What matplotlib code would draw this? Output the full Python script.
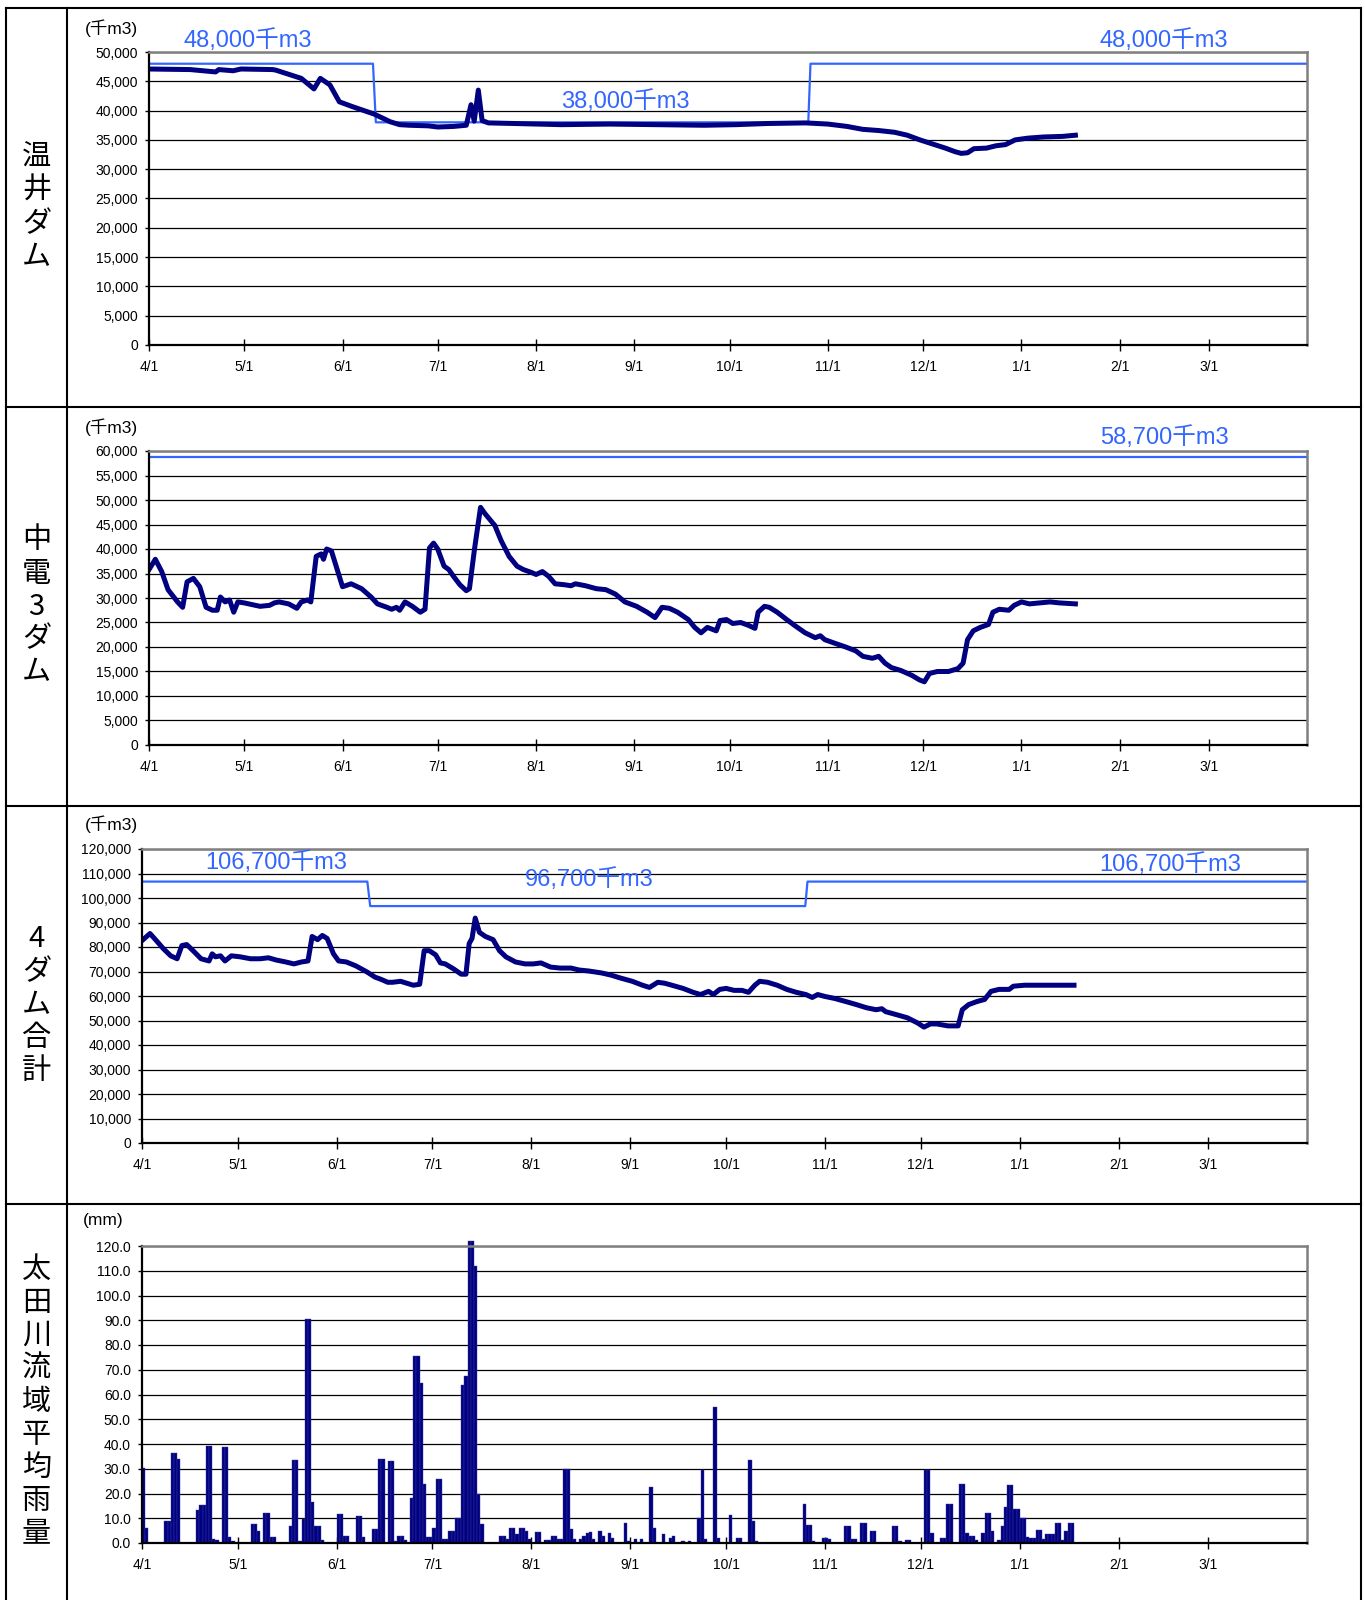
import numpy as np
import matplotlib
matplotlib.use("Agg")
import matplotlib.pyplot as plt
from matplotlib.lines import Line2D

plt.rcParams['font.family'] = ['Liberation Sans', 'Noto Sans CJK JP']

W, H = 1365, 1600

# ----- data -----
tick_days = [0, 30, 61, 91, 122, 153, 183, 214, 244, 275, 306, 334]
tick_labels = ['4/1', '5/1', '6/1', '7/1', '8/1', '9/1', '10/1', '11/1', '12/1', '1/1', '2/1', '3/1']

# 温井ダム storage (千m3)
ondo_day = [0, 13, 21, 22, 26.5, 29, 39, 40, 48, 52, 54, 57, 60, 64, 71, 76, 79,
            82, 88, 91, 96, 100, 101.5, 102.5, 103.8, 105, 107, 115, 130, 145, 160,
            175, 185, 195, 207, 214, 220, 225, 230, 235, 239, 243, 247, 251, 254,
            256, 258, 260, 264, 267, 270, 273, 277, 282, 288, 292]
ondo_val = [47100, 47000, 46600, 47000, 46800, 47100, 47000, 46900, 45500, 43700, 45500,
            44400, 41500, 40700, 39400, 38100, 37600,
            37500, 37400, 37200, 37300, 37500, 41000, 38200, 43500, 38300, 37900, 37800,
            37600, 37700, 37600, 37500, 37600, 37800, 37900, 37700, 37300, 36800, 36600,
            36300, 35800, 35000, 34300, 33600, 33000, 32700, 32800, 33500, 33600, 34000,
            34200, 35000, 35300, 35500, 35600, 35800]
ondo_lim_day = [0, 70.6, 71.5, 207.8, 208.5, 365]
ondo_lim_val = [48000, 48000, 38000, 38000, 48000, 48000]

# 中電3ダム storage (千m3)
chuden_day = [0, 2, 4, 6, 9, 10.6, 12, 14, 16, 18, 20, 21.5, 22.5, 24, 25.4, 26.7, 28,
              30, 35, 38, 39.5, 41, 44, 46.6, 48, 50, 51, 52.7, 54.3, 55, 56, 57.5, 60,
              61, 63.7, 67, 70, 72, 75, 76.5, 78, 79, 80.7, 83, 85.5, 87, 88.4, 89.7, 91,
              93, 94.5, 96, 98, 100, 101, 102.6, 104.5, 105.8, 107.7, 109, 111, 113.5,
              116, 118, 120.6, 122, 124, 126, 128, 131, 133, 134.4, 137.6, 141, 144, 147,
              150, 153.7, 157, 159.5, 161.7, 164, 166.6, 170, 172, 174, 176, 178.8, 180,
              182, 184, 186.5, 189, 191, 192, 194, 195.5, 198, 201, 203.5, 206.8, 210,
              211.6, 213, 216, 219.6, 222.8, 225, 228, 230, 232, 234, 237, 240.5, 242.8,
              244.4, 246, 248.5, 252, 255, 256.6, 258, 259.8, 262, 264.6, 266, 268, 271,
              272.7, 275, 277.5, 280.7, 284, 287, 292]
chuden_val = [35800, 37900, 35400, 31700, 29200, 28100, 33300, 34000, 32300, 28100, 27500,
              27500, 30200, 29200, 29600, 27100, 29200, 29000, 28300, 28500, 29000, 29200,
              28800, 27900, 29200, 29600, 29200, 38500, 39000, 37900, 40000, 39600, 34400,
              32300, 32900, 31900, 30200, 28800, 28100, 27700, 28100, 27500, 29200, 28300,
              27100, 27700, 40200, 41200, 40000, 36500, 35800, 34400, 32700, 31500, 31900,
              40000, 48500, 47300, 45800, 44800, 41700, 38500, 36500, 35800, 35200, 34800,
              35400, 34400, 32900, 32700, 32500, 32900, 32500, 31900, 31700, 30800, 29200,
              28300, 27100, 26000, 28100, 27900, 27100, 25600, 24000, 22900, 24000, 23300,
              25400, 25600, 24800, 25000, 24400, 23800, 27100, 28300, 28100, 27100, 25600,
              24400, 22900, 21900, 22300, 21500, 20800, 20000, 19200, 18100, 17700, 18100,
              16700, 15800, 15200, 14200, 13300, 12900, 14600, 15000, 15000, 15600, 16700,
              21500, 23300, 24000, 24600, 27100, 27700, 27500, 28500, 29200, 28800, 29000,
              29200, 29000, 28800]
chuden_lim_day = [0, 365]
chuden_lim_val = [58700, 58700]

# 4ダム合計 storage (千m3)
total_day = [0, 2.5, 4.5, 6.7, 9, 11, 12.5, 14, 16, 18.5, 21, 22, 23, 24.6, 26, 28, 30.7,
             34, 37, 39.6, 42, 45, 47.6, 50, 52, 53.3, 55, 56.5, 58, 60, 61.6, 64, 67,
             70.5, 73, 74.7, 77, 78.5, 81, 83, 85, 87, 88.4, 90, 92, 93.5, 95, 97.7, 100,
             101.5, 102.5, 103.4, 104.4, 105.7, 107.6, 110, 112, 114, 117, 120, 122.6,
             125, 128, 131, 134.4, 137, 140, 144, 147, 150, 153.6, 156.8, 159, 161.6,
             163.8, 166, 169.5, 172.7, 175, 177.5, 179, 181, 183, 185.5, 188, 190, 192,
             193.5, 196, 199, 202, 205, 208, 210, 211.7, 214, 217, 220.6, 223.8, 227, 230,
             231.8, 233, 236.6, 239.8, 243, 245, 247, 249, 252.5, 255.7, 257, 259, 261.5,
             264, 266, 268.5, 271.7, 273, 276.5, 281, 286, 292]
total_val = [82600, 85500, 82600, 79300, 76400, 75200, 80600, 81000, 78500, 75200, 74300,
             77200, 76000, 76400, 74300, 76400, 76000, 75200, 75200, 75600, 74700, 73900,
             73100, 73900, 74300, 84300, 83000, 84700, 83500, 77200, 74300, 73900, 72300,
             69800, 67700, 66900, 65600, 65600, 66000, 65200, 64400, 64800, 78500, 78500,
             76800, 73500, 73100, 71000, 68900, 68900, 81400, 83500, 91800, 86000, 84300,
             83000, 78500, 76000, 73900, 73100, 73100, 73500, 71800, 71400, 71400, 70600,
             70200, 69400, 68500, 67300, 66000, 64400, 63500, 65600, 65200, 64400, 63100,
             61500, 60600, 61900, 60600, 62700, 63100, 62300, 62300, 61500, 64400, 66000,
             65600, 64400, 62700, 61500, 60600, 59400, 60600, 59800, 59000, 57700, 56500,
             55200, 54400, 54800, 53600, 52300, 51100, 49000, 47300, 48600, 48600, 47800,
             47800, 54400, 56500, 57700, 58600, 61900, 62700, 62700, 64000, 64400, 64400,
             64400, 64400]
total_lim_day = [0, 70.6, 71.5, 207.8, 208.5, 365]
total_lim_val = [106700, 106700, 96700, 96700, 106700, 106700]

# 太田川流域平均雨量 (mm/day), days with rain
rain_day = [0, 1, 7, 8, 9, 10, 11, 17, 18, 19, 20, 21, 22, 23, 25, 26, 27, 28, 34, 35, 36,
            38, 39, 40, 41, 46, 47, 48, 49, 50, 51, 52, 53, 54, 55, 56, 61, 62, 63, 64,
            67, 68, 69, 72, 73, 74, 75, 77, 78, 79, 80, 81, 82, 84, 85, 86, 87, 88, 89,
            90, 91, 92, 93, 94, 95, 96, 97, 98, 99, 100, 101, 102, 103, 104, 105, 106,
            112, 113, 114, 115, 116, 117, 118, 119, 120, 121, 123, 124, 126, 127, 128,
            129, 130, 131, 132, 133, 134, 135, 137, 138, 139, 140, 141, 143, 144, 146,
            147, 151, 152, 154, 156, 159, 160, 163, 165, 166, 169, 171, 174, 175, 176,
            179, 180, 184, 186, 187, 190, 191, 192, 207, 208, 209, 210, 213, 214, 215,
            220, 221, 222, 223, 225, 226, 228, 229, 235, 236, 237, 239, 240, 245, 246,
            247, 250, 251, 252, 253, 256, 257, 258, 259, 260, 261, 263, 264, 265, 266,
            268, 269, 270, 271, 272, 273, 274, 275, 276, 277, 278, 279, 280, 281, 282,
            283, 284, 285, 286, 287, 288, 289, 290, 291]
rain_val = [30.2, 6.2, 8.7, 8.7, 36.5, 36.5, 34.0, 13.5, 15.5, 15.5, 39.0, 39.0, 1.5, 1.2,
            38.8, 38.8, 2.6, 1.0, 7.5, 7.5, 5.0, 12.3, 12.3, 2.5, 2.5, 7.0, 33.5, 33.5,
            1.0, 9.6, 90.5, 90.5, 16.5, 7.0, 7.0, 1.2, 11.8, 11.8, 2.9, 2.9, 11.0, 11.0,
            2.6, 5.5, 5.5, 34.0, 34.0, 33.2, 33.2, 1.0, 2.8, 2.8, 1.2, 18.3, 75.6, 75.6,
            64.5, 23.8, 2.6, 2.6, 6.2, 26.0, 26.0, 1.8, 1.8, 5.0, 5.0, 10.0, 10.0, 64.0,
            67.5, 122.0, 122.0, 112.0, 20.0, 7.7, 3.0, 3.0, 1.5, 6.1, 6.1, 3.5, 6.1, 6.1,
            5.0, 1.5, 4.5, 4.5, 1.2, 1.2, 3.0, 3.0, 1.5, 1.5, 29.8, 29.8, 5.5, 1.5, 1.5,
            3.0, 4.0, 4.5, 1.5, 5.0, 3.0, 4.0, 2.0, 8.0, 1.0, 1.5, 1.5, 22.5, 6.0, 3.5,
            2.0, 3.0, 1.0, 1.0, 10.0, 29.5, 1.5, 55.0, 2.0, 11.5, 2.0, 2.0, 33.5, 9.0,
            1.0, 15.6, 7.3, 7.3, 1.0, 2.2, 2.2, 1.5, 6.9, 6.9, 1.6, 1.6, 8.2, 8.2, 4.8,
            4.8, 6.9, 6.9, 1.0, 1.2, 1.2, 29.5, 29.5, 4.2, 2.2, 2.2, 15.6, 15.6, 23.8,
            23.8, 3.9, 3.0, 3.0, 1.2, 3.9, 12.3, 12.3, 4.8, 1.2, 6.9, 14.7, 23.3, 23.3,
            13.6, 13.6, 10.1, 10.1, 2.6, 2.2, 2.2, 5.3, 5.3, 1.5, 3.6, 3.6, 3.6, 8.2, 8.2,
            1.2, 5.0, 8.2, 8.2]

row_names = ['温井ダム', '中電3ダム', '4ダム合計', '太田川流域平均雨量']
units = ['(千m3)', '(千m3)', '(千m3)', '(mm)']

# ----- figure -----
fig = plt.figure(figsize=(W / 100, H / 100), dpi=100)

navy = '#000080'
blue = '#3366FF'


def px_axes(left, top, right, bottom):
    return fig.add_axes([left / W, 1 - bottom / H, (right - left) / W, (bottom - top) / H])


def style(ax, ymax, ystep, fmt):
    ax.set_xlim(0, 365)
    ax.set_ylim(0, ymax)
    ax.set_xticks(tick_days)
    ax.set_xticklabels(tick_labels)
    ax.set_yticks(np.arange(0, ymax + ystep / 2, ystep))
    ax.set_yticklabels([fmt(v) for v in np.arange(0, ymax + ystep / 2, ystep)])
    ax.tick_params(axis='x', direction='inout', length=8, width=1, pad=7, labelsize=10)
    ax.tick_params(axis='y', direction='out', length=3, width=1, pad=5, labelsize=10)
    ax.yaxis.grid(True, color='black', linewidth=0.9)
    ax.set_axisbelow(True)
    for s in ['left', 'bottom']:
        ax.spines[s].set_color('black')
        ax.spines[s].set_linewidth(1.6)
    for s in ['top', 'right']:
        ax.spines[s].set_color('#808080')
        ax.spines[s].set_linewidth(1.8)


def thousands(v):
    return f'{int(v):,}'


def one_dec(v):
    return f'{v:.1f}'


# 温井ダム
ax1 = px_axes(149, 52, 1307, 345)
style(ax1, 50000, 5000, thousands)
ax1.plot(ondo_lim_day, ondo_lim_val, color=blue, lw=1.6)
ax1.plot(ondo_day, ondo_val, color=navy, lw=3.6, solid_joinstyle='round')
ax1.text(31, 52000, '48,000千m3', color=blue, fontsize=17, ha='center', va='center', clip_on=False)
ax1.text(150, 41600, '38,000千m3', color=blue, fontsize=17, ha='center', va='center')
ax1.text(320, 52000, '48,000千m3', color=blue, fontsize=17, ha='center', va='center', clip_on=False)

# 中電3ダム
ax2 = px_axes(149, 451, 1307, 745)
style(ax2, 60000, 5000, thousands)
ax2.plot(chuden_lim_day, chuden_lim_val, color=blue, lw=1.6)
ax2.plot(chuden_day, chuden_val, color=navy, lw=3.6, solid_joinstyle='round')
ax2.text(320, 62800, '58,700千m3', color=blue, fontsize=17, ha='center', va='center', clip_on=False)

# 4ダム合計
ax3 = px_axes(142, 849, 1307, 1143)
style(ax3, 120000, 10000, thousands)
ax3.plot(total_lim_day, total_lim_val, color=blue, lw=1.6)
ax3.plot(total_day, total_val, color=navy, lw=3.6, solid_joinstyle='round')
ax3.text(42, 114300, '106,700千m3', color=blue, fontsize=17, ha='center', va='center')
ax3.text(140, 107700, '96,700千m3', color=blue, fontsize=17, ha='center', va='center')
ax3.text(322, 113500, '106,700千m3', color=blue, fontsize=17, ha='center', va='center')

# 雨量
ax4 = px_axes(142, 1246, 1307, 1543)
style(ax4, 120, 10, one_dec)
ax4.bar(rain_day, rain_val, width=1.0, align='edge', color=navy,
        edgecolor='#3a3aa0', linewidth=0.3, clip_on=False)

# unit labels
unit_pos = [(111, 28), (111, 427), (111, 824), (103, 1221)]
for (ux, uy), u in zip(unit_pos, units):
    fig.text(ux / W, 1 - uy / H, u, fontsize=12.5, ha='center', va='center')

# table frame
def fline(x0, y0, x1, y1, lw=1.5):
    fig.add_artist(Line2D([x0 / W, x1 / W], [1 - y0 / H, 1 - y1 / H],
                          color='black', lw=lw, transform=fig.transFigure))

row_edges = [8, 407, 806, 1204, 1600]
for y in row_edges[:-1]:
    fline(6, y, 1361, y)
fline(6, 8, 6, 1600)
fline(67, 8, 67, 1600)
fline(1361, 8, 1361, 1600)

# vertical row names
for i, name in enumerate(row_names):
    cy = (row_edges[i] + row_edges[i + 1]) / 2
    n = len(name)
    for k, ch in enumerate(name):
        y = cy + (k - (n - 1) / 2) * 33
        fig.text(36.5 / W, 1 - y / H, ch, fontsize=21, ha='center', va='center',
                 family='Noto Sans CJK JP')

fig.savefig('out.png', dpi=100)
